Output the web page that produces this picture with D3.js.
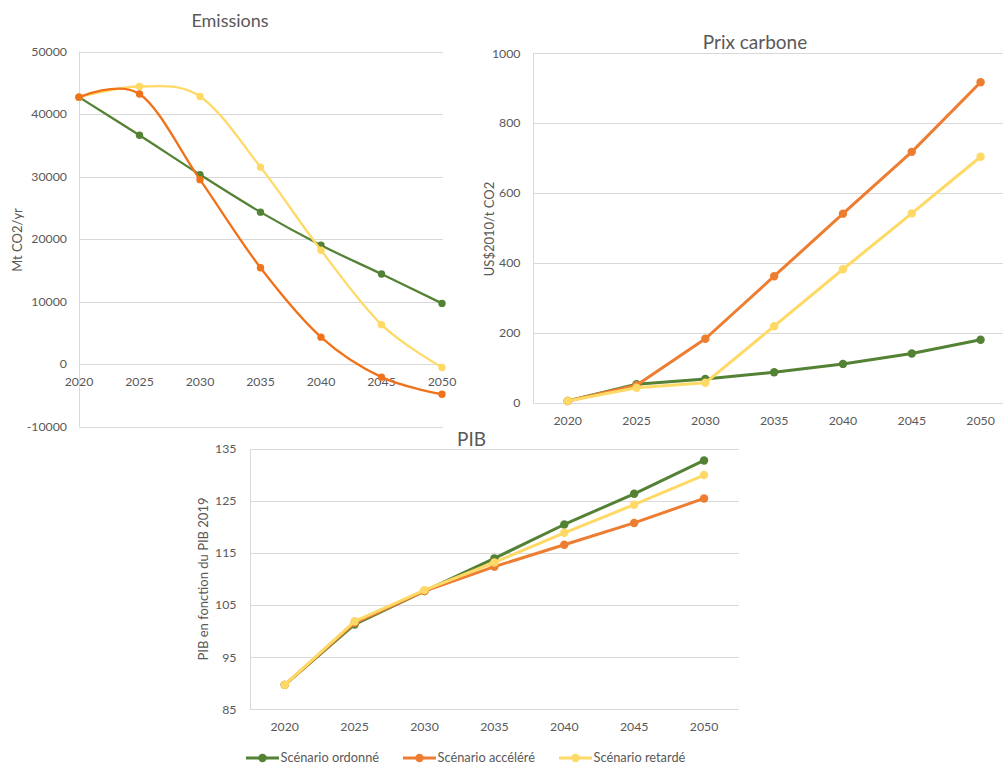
<!DOCTYPE html>
<html>
<head>
<meta charset="utf-8">
<script src="https://cdn.jsdelivr.net/npm/d3@7"></script>
<style>
  html, body { margin: 0; padding: 0; background: #fff; }
  svg { display: block; }
  text { font-family: Lato, "Open Sans", sans-serif; fill: #595959; }
</style>
</head>
<body>
<svg id="chart" width="1003" height="765"></svg>
<script>
// Years shared by the three panels
const years = ["2020", "2025", "2030", "2035", "2040", "2045", "2050"];
const scenarioNames = ["Scénario ordonné", "Scénario accéléré", "Scénario retardé"];

// Emissions (Mt CO2/yr)
const emissionsOrdonne = [42700, 36600, 30300, 24300, 19000, 14400, 9700];
const emissionsAccelere = [42700, 43200, 29500, 15400, 4300, -2100, -4850];
const emissionsRetarde = [42700, 44400, 42800, 31500, 18200, 6300, -550];
const emissionsTicks = [-10000, 0, 10000, 20000, 30000, 40000, 50000];

// Carbon price (US$2010/t CO2)
const prixOrdonne = [5, 53, 68, 87, 111, 141, 180];
const prixAccelere = [5, 50, 183, 362, 541, 718, 917];
const prixRetarde = [5, 43, 57, 219, 382, 542, 704];
const prixTicks = [0, 200, 400, 600, 800, 1000];

// GDP relative to 2019
const pibOrdonne = [89.7, 101.3, 107.7, 114.0, 120.5, 126.4, 132.8];
const pibAccelere = [89.7, 101.6, 107.7, 112.4, 116.6, 120.8, 125.5];
const pibRetarde = [89.7, 101.9, 107.9, 113.2, 118.9, 124.3, 130.0];
const pibTicks = [85, 95, 105, 115, 125, 135];

const GREEN = "#548235", ORANGE = "#ED7D31", ORANGE_EM = "#F0721A", YELLOW = "#FFD966";
const GRID = "#d9d9d9";

const svg = d3.select("#chart");

function panel(opt) {
  const g = svg.append("g");
  const x = opt.x, y = opt.y;
  const [gx0, gx1] = opt.gridX;

  // horizontal gridlines
  g.selectAll("line.grid").data(opt.ticks).join("line")
    .attr("x1", gx0).attr("x2", gx1)
    .attr("y1", d => Math.round(y(d)) + 0.5).attr("y2", d => Math.round(y(d)) + 0.5)
    .attr("stroke", GRID).attr("stroke-width", 1);

  // vertical axis line
  g.append("line")
    .attr("x1", gx0 + 0.5).attr("x2", gx0 + 0.5)
    .attr("y1", y(opt.ticks[opt.ticks.length - 1])).attr("y2", y(opt.ticks[0]))
    .attr("stroke", GRID).attr("stroke-width", 1);

  // y tick labels
  g.selectAll("text.ytick").data(opt.ticks).join("text")
    .attr("x", opt.yLabelX).attr("y", d => y(d))
    .attr("dy", "0.35em").attr("text-anchor", "end")
    .style("font-size", "12.3px").text(d => d);

  // x tick labels
  g.selectAll("text.xtick").data(years).join("text")
    .attr("x", d => x(d)).attr("y", opt.xLabelY)
    .attr("dy", "0.35em").attr("text-anchor", "middle")
    .style("font-size", "12.3px").text(d => d);

  // title
  g.append("text").attr("x", opt.title[1]).attr("y", opt.title[2])
    .attr("dy", "0.35em").attr("text-anchor", "middle")
    .style("font-size", opt.titleSize + "px").text(opt.title[0]);

  // y axis title
  g.append("text")
    .attr("transform", `translate(${opt.yTitle[1]},${opt.yTitle[2]}) rotate(-90)`)
    .attr("dy", "0.35em").attr("text-anchor", "middle")
    .style("font-size", "13px").text(opt.yTitle[0]);

  // series
  const line = d3.line()
    .x((d, i) => x(years[i]))
    .y(d => y(d))
    .curve(opt.curve || d3.curveLinear);

  opt.series.forEach(s => {
    g.append("path").datum(s.values)
      .attr("d", line).attr("fill", "none")
      .attr("stroke", s.color).attr("stroke-width", opt.lineWidth)
      .attr("stroke-linejoin", "round").attr("stroke-linecap", "round");
    g.selectAll(null).data(s.values).join("circle")
      .attr("cx", (d, i) => x(years[i])).attr("cy", d => y(d))
      .attr("r", opt.r).attr("fill", s.color);
  });
}

// Emissions panel: categories on tick marks, smoothed lines
const xEm = d3.scalePoint().domain(years).range([79, 442]);
const yEm = d3.scaleLinear().domain([-10000, 50000]).range([426.5, 51.5]);
panel({
  x: xEm, y: yEm, ticks: emissionsTicks, gridX: [79, 443],
  yLabelX: 67, xLabelY: 382,
  title: ["Emissions", 230, 21], titleSize: 18,
  yTitle: ["Mt CO2/yr", 17, 240],
  curve: d3.curveCardinal.tension(0),
  lineWidth: 2.3, r: 3.7,
  series: [
    { values: emissionsOrdonne, color: GREEN },
    { values: emissionsRetarde, color: YELLOW },
    { values: emissionsAccelere, color: ORANGE_EM }
  ]
});

// Carbon price panel: categories between tick marks
const xPx = d3.scaleBand().domain(years).range([533.3, 1015]).paddingInner(0).paddingOuter(0);
const xPxC = d => xPx(d) + xPx.bandwidth() / 2;
const yPx = d3.scaleLinear().domain([0, 1000]).range([402.7, 53.3]);
panel({
  x: xPxC, y: yPx, ticks: prixTicks, gridX: [533, 1015],
  yLabelX: 520.5, xLabelY: 420.5,
  title: ["Prix carbone", 755, 42], titleSize: 19,
  yTitle: ["US$2010/t CO2", 489, 229],
  lineWidth: 3, r: 4.2,
  series: [
    { values: prixOrdonne, color: GREEN },
    { values: prixAccelere, color: ORANGE },
    { values: prixRetarde, color: YELLOW }
  ]
});

// GDP panel
const xPib = d3.scaleBand().domain(years).range([249.8, 739]).paddingInner(0).paddingOuter(0);
const xPibC = d => xPib(d) + xPib.bandwidth() / 2;
const yPib = d3.scaleLinear().domain([85, 135]).range([709.3, 449]);
panel({
  x: xPibC, y: yPib, ticks: pibTicks, gridX: [250, 739],
  yLabelX: 236.5, xLabelY: 727,
  title: ["PIB", 471.5, 439], titleSize: 19,
  yTitle: ["PIB en fonction du PIB 2019", 203.5, 579],
  lineWidth: 3, r: 4.2,
  series: [
    { values: pibOrdonne, color: GREEN },
    { values: pibAccelere, color: ORANGE },
    { values: pibRetarde, color: YELLOW }
  ]
});

// Legend
const legendColors = [GREEN, ORANGE, YELLOW];
const legendX = [246, 403, 559];
const legend = svg.append("g").selectAll("g").data(scenarioNames).join("g")
  .attr("transform", (d, i) => `translate(${legendX[i]},758)`);
legend.append("line").attr("x1", 0).attr("x2", 33).attr("y1", 0).attr("y2", 0)
  .attr("stroke", (d, i) => legendColors[i]).attr("stroke-width", 3);
legend.append("circle").attr("cx", 16.5).attr("cy", 0).attr("r", 4.2)
  .attr("fill", (d, i) => legendColors[i]);
legend.append("text").attr("x", 34.5).attr("y", 0).attr("dy", "0.35em")
  .style("font-size", "12.8px").text(d => d);
</script>
</body>
</html>
